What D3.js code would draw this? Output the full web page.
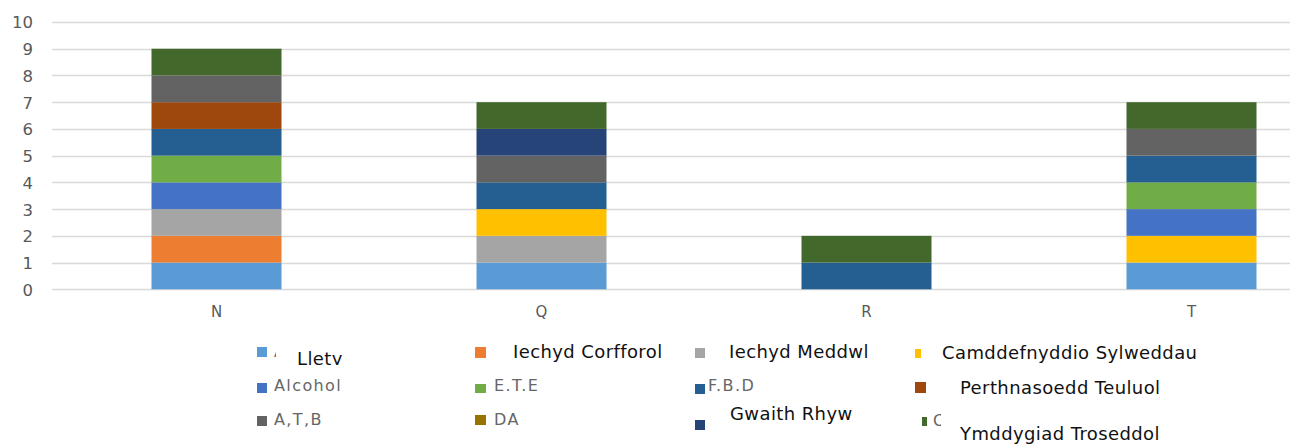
<!DOCTYPE html>
<html lang="cy">
  <head>
    <meta charset="utf-8">
    <title>Anghenion</title>
    <style>
      body { margin: 0; background: #fff; }
      svg { display: block; }
      .grid line { stroke: #d9d9d9; stroke-width: 1.4px; }
      .ylab text, .xlab text { font-family: "DejaVu Sans", Verdana, sans-serif; fill: #595959; }
      .leg-grey { font-family: "DejaVu Sans", Verdana, sans-serif; font-size: 16px; fill: #666; letter-spacing: 1.4px; }
      .leg-black { font-family: "DejaVu Sans", Verdana, sans-serif; font-size: 18px; fill: #111; letter-spacing: 0.4px; }
    </style>
  </head>
  <body>
    <svg width="1290" height="445"></svg>
    <script src="https://cdn.jsdelivr.net/npm/d3@7"></script>
    <script>
    // data
    var categories = ["N", "Q", "R", "T"];
    var series = ["Llety", "Iechyd Corfforol", "Iechyd Meddwl", "Camddefnyddio Sylweddau",
                  "Alcohol", "E.T.E", "F.B.D", "Perthnasoedd Teuluol",
                  "A,T,B", "DA", "Gwaith Rhyw", "Ymddygiad Troseddol"];
    var colours = ["#5b9bd5", "#ed7d31", "#a5a5a5", "#ffc000",
                   "#4472c4", "#70ad47", "#255e91", "#9e480e",
                   "#636363", "#997300", "#264478", "#43682b"];
    // one row per category, one value per series
    var valuesN = [1, 1, 1, 0, 1, 1, 1, 1, 1, 0, 0, 1];
    var valuesQ = [1, 0, 1, 1, 0, 0, 1, 0, 1, 0, 1, 1];
    var valuesR = [0, 0, 0, 0, 0, 0, 1, 0, 0, 0, 0, 1];
    var valuesT = [1, 0, 0, 1, 1, 1, 1, 0, 1, 0, 0, 1];
    var yTicks = [0, 1, 2, 3, 4, 5, 6, 7, 8, 9, 10];

    // legend placement (the original has text boxes pasted over some entries)
    // [square x, y, w, h, label x, baseline, style, remnant glyph]
    var legendLayout = [
      [257, 347, 10, 10, 297, 365, "black", "A"],
      [475, 347, 11, 11, 513, 358, "black", null],
      [695, 348, 10, 10, 729, 358, "black", null],
      [915, 349, 6, 9, 942, 359, "black", null],
      [257, 383, 10, 10, 274, 391, "grey", null],
      [475, 384, 11, 9, 494, 391, "grey", null],
      [695, 384, 10, 10, 708, 391, "grey", null],
      [915, 382, 11, 11, 960, 394, "black", "F"],
      [257, 416, 10, 10, 274, 425, "grey", null],
      [475, 415, 11, 10, 494, 425, "grey", null],
      [695, 420, 10, 10, 730, 420, "black", null],
      [922, 417, 5, 9, 960, 440, "black", "C"]
    ];

    var svg = d3.select("svg");
    var table = [valuesN, valuesQ, valuesR, valuesT].map(function(v, i) {
      var row = { cat: categories[i] };
      series.forEach(function(s, j) { row[s] = v[j]; });
      return row;
    });

    var x = d3.scaleBand().domain(categories).range([54, 1354]).paddingInner(0.6).paddingOuter(0.3);
    var y = d3.scaleLinear().domain([0, 10]).range([289.3, 22]);
    var colour = d3.scaleOrdinal().domain(series).range(colours);

    // gridlines
    svg.append("g").attr("class", "grid")
      .selectAll("line").data(yTicks).enter().append("line")
      .attr("x1", 52).attr("x2", 1290)
      .attr("y1", function(d) { return Math.round(y(d)) + 0.5; })
      .attr("y2", function(d) { return Math.round(y(d)) + 0.5; });

    var yAxis = svg.append("g").attr("class", "ylab")
      .attr("transform", "translate(33,0)")
      .call(d3.axisLeft(y).tickValues(yTicks).tickSize(0).tickPadding(0));
    yAxis.select(".domain").remove();
    yAxis.selectAll("text").style("font-size", "16.5px").attr("dy", "0.36em");

    var stack = d3.stack().keys(series)(table);
    svg.append("g").selectAll("g").data(stack).enter().append("g")
      .attr("fill", function(d) { return colour(d.key); })
      .selectAll("rect").data(function(d) { return d; }).enter().append("rect")
      .attr("x", function(d) { return x(d.data.cat); })
      .attr("width", x.bandwidth())
      .attr("y", function(d) { return y(d[1]); })
      .attr("height", function(d) { return y(d[0]) - y(d[1]); });

    var xAxis = svg.append("g").attr("class", "xlab")
      .attr("transform", "translate(0,317)")
      .call(d3.axisBottom(x).tickSize(0).tickPadding(0));
    xAxis.select(".domain").remove();
    xAxis.selectAll("text").style("font-size", "15px").attr("dy", 0);

    // legend
    var defs = svg.append("defs");
    var leg = svg.append("g");
    series.forEach(function(s, i) {
      var L = legendLayout[i];
      leg.append("rect").attr("x", L[0]).attr("y", L[1]).attr("width", L[2]).attr("height", L[3])
        .attr("fill", colour(s));
      if (L[7]) {
        defs.append("clipPath").attr("id", "rem" + i).append("rect")
          .attr("x", L[0] + L[2]).attr("y", L[1] - 4).attr("width", 17 - L[2] + 2).attr("height", 14);
        leg.append("text").attr("class", "leg-grey")
          .attr("x", i === 0 ? 274 : 933).attr("y", L[1] + L[3])
          .attr("clip-path", "url(#rem" + i + ")")
          .text(L[7]);
      }
      var t = leg.append("text").attr("class", L[6] === "black" ? "leg-black" : "leg-grey")
        .attr("x", L[4]).attr("y", L[5]).text(s);
      if (i === 0) {
        defs.append("clipPath").attr("id", "lletyclip").append("rect")
          .attr("x", 290).attr("y", 340).attr("width", 80).attr("height", 25);
        t.attr("clip-path", "url(#lletyclip)");
      }
    });
    </script>
  </body>
</html>
